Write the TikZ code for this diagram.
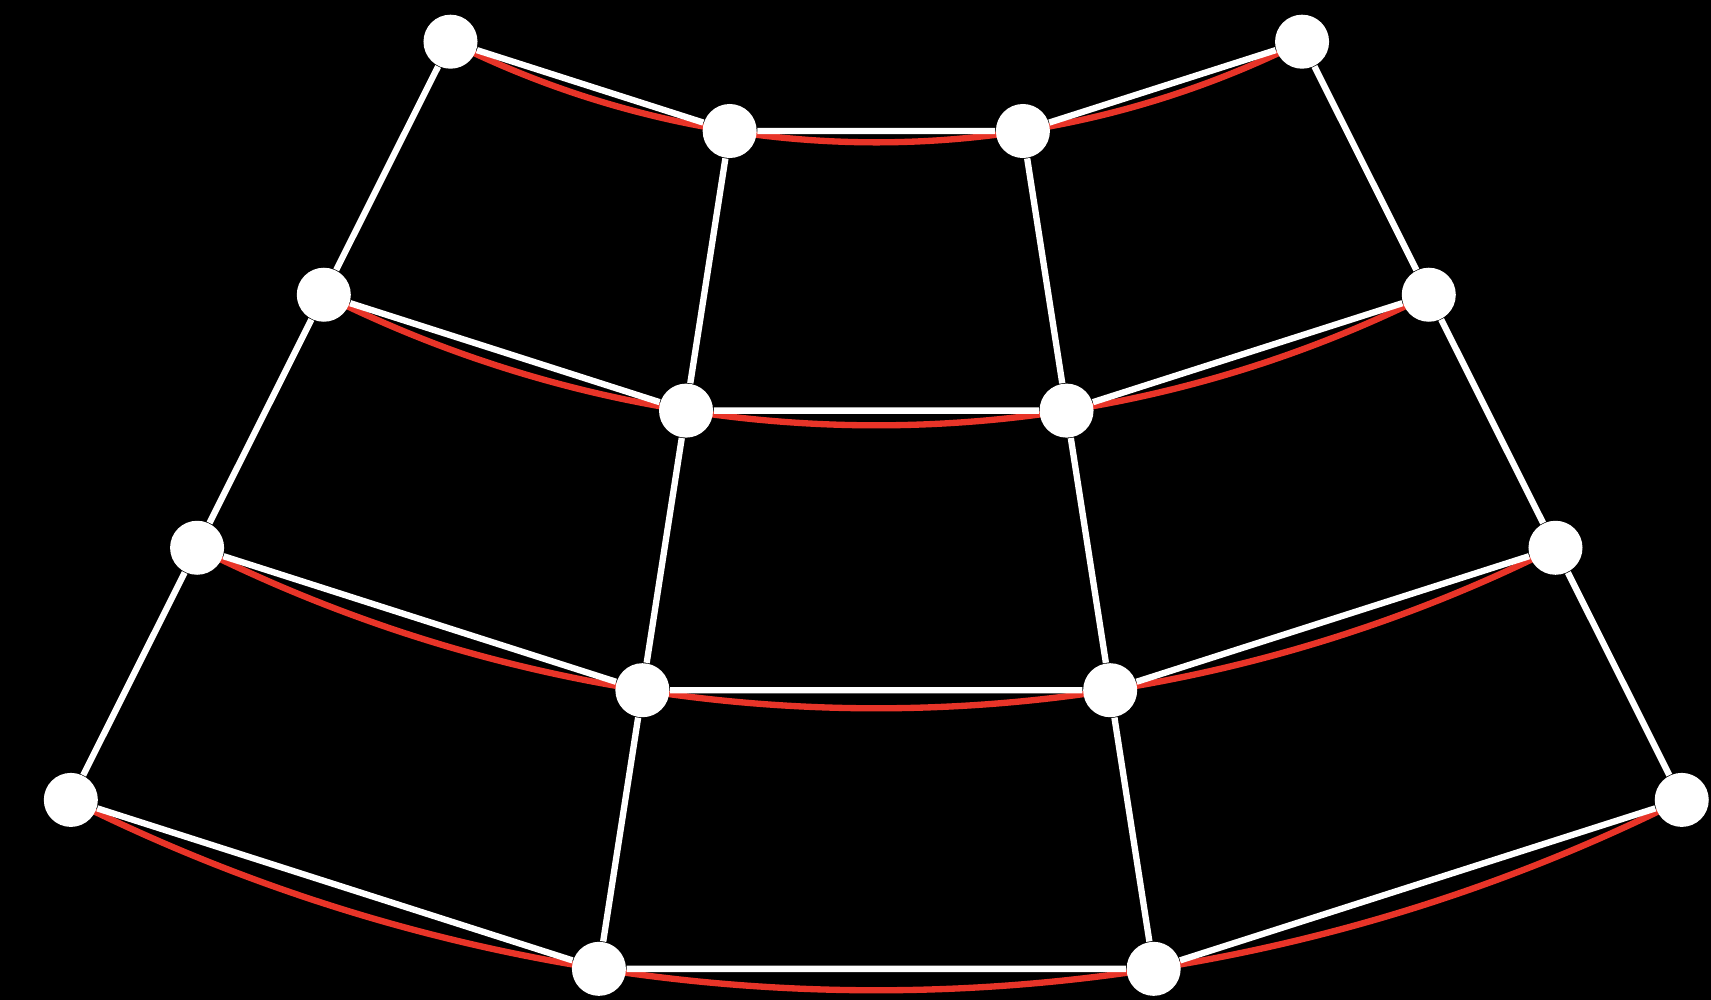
\documentclass[tikz,border=0pt]{standalone}
\usepackage{xcolor}
\definecolor{meshred}{RGB}{232,52,40}
\definecolor{meshwhite}{RGB}{255,255,255}
\usetikzlibrary{calc}
\pgfdeclarelayer{back}
\pgfsetlayers{back,main}

\begin{document}
\begin{tikzpicture}[x=0.01cm,y=0.01cm,
  meshdot/.style={circle,fill=meshwhite,draw=none,minimum size=0.54cm,inner sep=0pt},
  meshedge/.style={draw=meshwhite,line width=1.8pt},
  rowarc/.style={draw=meshred,line width=1.8pt}
]
  % frame (circle centre of the rows sits above the picture)
  \coordinate (bl) at (-876.3,-1808.6);
  \coordinate (tr) at (834.7,-808.6);
  \useasboundingbox (bl) rectangle (tr);
  % Row 1
  \node[meshdot] (n11) at (-116.6:951) {};
  \node[meshdot] (n12) at (-98.87:951) {};
  \node[meshdot] (n13) at (-81.13:951) {};
  \node[meshdot] (n14) at (-63.4:951) {};
  % Row 2
  \node[meshdot] (n21) at (-116.6:1234) {};
  \node[meshdot] (n22) at (-98.87:1234) {};
  \node[meshdot] (n23) at (-81.13:1234) {};
  \node[meshdot] (n24) at (-63.4:1234) {};
  % Row 3
  \node[meshdot] (n31) at (-116.6:1517) {};
  \node[meshdot] (n32) at (-98.87:1517) {};
  \node[meshdot] (n33) at (-81.13:1517) {};
  \node[meshdot] (n34) at (-63.4:1517) {};
  % Row 4
  \node[meshdot] (n41) at (-116.6:1799) {};
  \node[meshdot] (n42) at (-98.87:1799) {};
  \node[meshdot] (n43) at (-81.13:1799) {};
  \node[meshdot] (n44) at (-63.4:1799) {};
  \begin{pgfonlayer}{back}
    \fill[black] (bl) rectangle (tr);
    % Arcs through each row
    \draw[rowarc] (n11.center) arc[start angle=-116.6,end angle=-63.4,radius=951];
    \draw[rowarc] (n21.center) arc[start angle=-116.6,end angle=-63.4,radius=1234];
    \draw[rowarc] (n31.center) arc[start angle=-116.6,end angle=-63.4,radius=1517];
    \draw[rowarc] (n41.center) arc[start angle=-116.6,end angle=-63.4,radius=1799];
    % Straight mesh edges
    \draw[meshedge] (n11) -- (n12) -- (n13) -- (n14);
    \draw[meshedge] (n21) -- (n22) -- (n23) -- (n24);
    \draw[meshedge] (n31) -- (n32) -- (n33) -- (n34);
    \draw[meshedge] (n41) -- (n42) -- (n43) -- (n44);
    \draw[meshedge] (n11) -- (n21) -- (n31) -- (n41);
    \draw[meshedge] (n12) -- (n22) -- (n32) -- (n42);
    \draw[meshedge] (n13) -- (n23) -- (n33) -- (n43);
    \draw[meshedge] (n14) -- (n24) -- (n34) -- (n44);
  \end{pgfonlayer}
\end{tikzpicture}
\end{document}
